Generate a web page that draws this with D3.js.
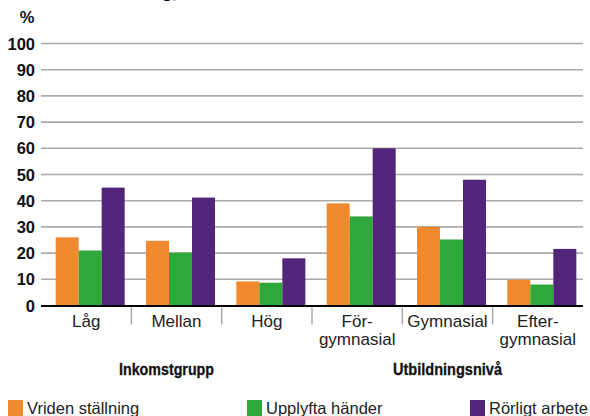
<!DOCTYPE html>
<html>
<head>
<meta charset="utf-8">
<script src="https://d3js.org/d3.v7.min.js"></script>
<style>
  body { margin: 0; background: #fff; }
  svg { display: block; font-family: "Liberation Sans", Arial, sans-serif; }
  .ylab { font-weight: bold; font-size: 16.5px; fill: #111; }
  .cat { font-size: 17px; fill: #222; }
  .grp { font-weight: bold; font-size: 17px; fill: #111; stroke: #111; stroke-width: 0.3px; }
  .leg { font-size: 16.5px; fill: #222; }
</style>
</head>
<body>
<div id="chart"></div>
<script>
// categories (each label may have two lines)
var categories = ['Låg', 'Mellan', 'Hög', 'För-|gymnasial', 'Gymnasial', 'Efter-|gymnasial'];
var groups = [
  {name: 'Inkomstgrupp', from: 0, to: 2},
  {name: 'Utbildningsnivå', from: 3, to: 5}
];
var series = ['Vriden ställning', 'Upplyfta händer', 'Rörligt arbete'];
var colors = ['#f18a2e', '#2ea83a', '#52247a'];

var vriden   = [26, 24.7, 9.2, 39, 30, 9.8];
var upplyfta = [21, 20.2, 8.7, 34, 25.2, 8];
var rorligt  = [45, 41.2, 18, 60, 48, 21.6];
var yTicks = [0, 10, 20, 30, 40, 50, 60, 70, 80, 90, 100];

var values = [vriden, upplyfta, rorligt];

var width = 590, height = 416;
var plotLeft = 41, plotRight = 583, plotTop = 43.5, plotBottom = 305.5;

var svg = d3.select('#chart').append('svg')
    .attr('width', width)
    .attr('height', height);

// cut-off title at the very top
svg.append('text')
    .attr('x', 177).attr('y', -2)
    .attr('text-anchor', 'end')
    .style('font-weight', 'bold').style('font-size', '17px')
    .text('utbildning,');

var x0 = d3.scaleBand().domain(d3.range(categories.length)).range([plotLeft, plotRight]);
var x1 = d3.scaleBand().domain(d3.range(series.length)).range([0, 69]);
var y = d3.scaleLinear().domain([0, 100]).range([plotBottom, plotTop]);

// gridlines
svg.append('g').selectAll('line')
  .data(yTicks.filter(function(d) { return d > 0; }))
  .enter().append('line')
    .attr('x1', plotLeft).attr('x2', plotRight)
    .attr('y1', function(d) { return y(d); })
    .attr('y2', function(d) { return y(d); })
    .attr('stroke', '#ababab')
    .attr('stroke-width', 1.6);

// y labels
svg.append('g').selectAll('text')
  .data(yTicks)
  .enter().append('text')
    .attr('class', 'ylab')
    .attr('x', 35)
    .attr('y', function(d) { return y(d) + 6; })
    .attr('text-anchor', 'end')
    .text(function(d) { return d; });

svg.append('text')
    .attr('class', 'ylab')
    .attr('x', 27).attr('y', 23)
    .attr('text-anchor', 'middle')
    .text('%');

// bars
var barG = svg.append('g');
values.forEach(function(vals, s) {
  barG.selectAll('.bar' + s)
    .data(vals)
    .enter().append('rect')
      .attr('class', 'bar' + s)
      .attr('x', function(d, i) { return x0(i) + x0.bandwidth() / 2 - 34.5 + 4 + x1(s); })
      .attr('y', function(d) { return y(d); })
      .attr('width', x1.bandwidth())
      .attr('height', function(d) { return y(0) - y(d); })
      .attr('fill', colors[s]);
});

// zero axis
svg.append('line')
    .attr('x1', plotLeft).attr('x2', plotRight)
    .attr('y1', y(0) + 0.5).attr('y2', y(0) + 0.5)
    .attr('stroke', '#000').attr('stroke-width', 2.2);

// separators between categories
svg.append('g').selectAll('line')
  .data(d3.range(1, categories.length))
  .enter().append('line')
    .attr('x1', function(d) { return x0(d); })
    .attr('x2', function(d) { return x0(d); })
    .attr('y1', y(0) + 2).attr('y2', y(0) + 19)
    .attr('stroke', '#aaa').attr('stroke-width', 1.5);

// category labels
var catG = svg.append('g').selectAll('text')
  .data(categories)
  .enter().append('text')
    .attr('class', 'cat')
    .attr('text-anchor', 'middle')
    .attr('y', 327);
catG.each(function(d, i) {
  var lines = d.split('|');
  var t = d3.select(this);
  lines.forEach(function(l, k) {
    t.append('tspan')
      .attr('x', x0(i) + x0.bandwidth() / 2)
      .attr('dy', k === 0 ? 0 : 18)
      .text(l);
  });
});

// group titles (condensed bold)
svg.append('g').selectAll('text')
  .data(groups)
  .enter().append('text')
    .attr('class', 'grp')
    .attr('text-anchor', 'middle')
    .attr('x', function(d, i) { return (x0(d.from) + x0(d.to) + x0.bandwidth()) / 2 + (i === 0 ? -10 : 0); })
    .attr('y', 375)
    .attr('textLength', function(d, i) { return i === 0 ? 95 : 109; })
    .attr('lengthAdjust', 'spacingAndGlyphs')
    .text(function(d) { return d.name; });

// legend
var legX = [8, 247, 470];
var leg = svg.append('g').selectAll('g')
  .data(series)
  .enter().append('g')
    .attr('transform', function(d, i) { return 'translate(' + legX[i] + ',400)'; });
leg.append('rect')
    .attr('width', 15).attr('height', 16)
    .attr('fill', function(d, i) { return colors[i]; });
leg.append('text')
    .attr('class', 'leg')
    .attr('x', 19).attr('y', 13.5)
    .text(function(d) { return d; });
</script>
</body>
</html>
